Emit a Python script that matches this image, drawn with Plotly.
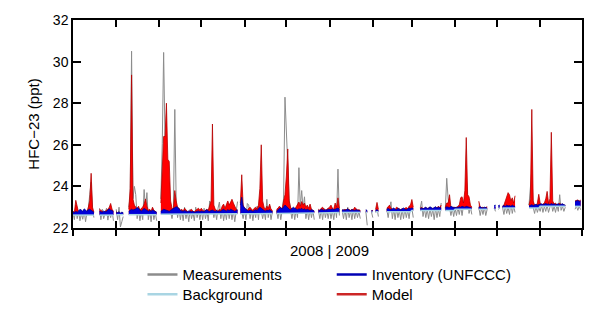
import pandas as pd
import plotly.graph_objects as go

N = None

# Daily axis: 1 Jul 2008 .. 30 Jun 2009
dates = pd.date_range("2008-07-01", "2009-06-30", freq="D")

# Background level (ppt), one value per month, Jul 2008 .. Jun 2009
background_monthly = [22.62, 22.64, 22.66, 22.68, 22.70, 22.72,
                      22.75, 22.78, 22.84, 22.90, 22.96, 23.04]

# Observed HFC-23 (ppt), daily; None = no data
measurements = [
    # Jul
    22.75, 22.40, 23.10, 22.45, 22.80, 22.35, 22.70, 22.42, 22.85, 22.30, 22.75, 22.95, 23.60, 24.20, 22.90, 22.50,
    N, N, N, 22.95, 22.40, 22.90, 22.45, 22.70, 22.95, 22.38, 22.80, 22.50, 22.85, 22.35, N,
    # Aug
    22.90, 22.40, 23.00, 22.05, 22.30, 22.55, N, N, N,
    23.00, 23.50, 30.50, 23.40, 24.00, 23.60, 22.45, 22.90, 22.35, 22.80, 22.40, 23.85, 22.90, 23.70, 22.40, 22.85,
    22.30, 22.95, 22.40, 22.75, 22.35, N,
    # Sep
    N, 23.40, 26.05, 30.44, 26.20, 25.50, 24.00, 23.30, 22.80, 22.45, 22.90, 27.70, 23.20, 22.50, 22.95, 22.40,
    22.85, 22.35, 23.00, 22.45, 22.80, 22.30, 22.90, 22.45, 22.75, 22.35, 23.00, 22.50, 22.85, 22.40,
    # Oct
    22.85, 22.40, 22.95, 22.45, 22.80, 22.35, 23.30, 22.90, 23.00, 22.50, 22.85, 22.40, 22.95, 23.25, 22.45, 22.90,
    22.35, 22.85, 22.40, 23.00, 22.45, 22.90, 22.40, 22.85, 22.30, 22.95, 23.27, N, 22.90, 22.80, 22.45,
    # Nov
    22.90, 22.40, 23.18, 23.10, 22.45, 22.90, 22.35, 22.85, 22.50, 23.05, 22.40, 23.20, 22.90, 22.45, 22.85, 22.40,
    23.38, 22.50, 22.90, 22.40, 22.80, N, N, 22.85, 22.45, 22.95, 22.40, 22.85, 23.40, 28.29,
    # Dec
    26.80, 25.20, 23.40, 22.85, 22.45, 22.95, 22.40, 22.90, 22.50, 24.90, 23.00, 23.80, 22.90, 23.50, 22.45, 22.90,
    22.40, 22.95, 22.50, 22.85, 22.40, N, N, 22.85, 22.45, 22.90, 22.40, 22.95, 22.50, 22.85, 22.45,
    # Jan
    22.90, 22.45, 22.85, 22.40, 23.00, 22.50, 24.83, 22.60, N,
    22.85, 22.45, 22.90, 22.40, 23.00, 22.50, 22.85, 22.40, 22.90, 22.45, 22.85, 22.50, 22.80, 22.45,
    N, N, N, 22.80, 22.13, N, N, 22.78,
    # Feb
    22.50, N, 22.75, 22.95, 22.55, N, N, N, N, N,
    22.90, 22.50, 22.95, 23.26, 22.45, 22.90, 22.40, 22.95, 22.50, 22.85, 22.40, 22.90, 22.45, 22.95, 22.50, 22.85,
    22.45, 23.00,
    # Mar
    22.95, 22.50, N, N, N, N,
    22.95, 23.29, 22.55, 22.95, 22.50, 22.90, 22.45, 22.95, 22.55, 22.90, 22.40, 22.95, 22.50, 22.90, 22.55, 23.20,
    N, N, 22.90, 24.39, 23.40, 22.95, 22.60, 22.95, 22.55,
    # Apr
    22.95, 22.60, 23.00, 22.65, 23.05, 22.60, 23.10, 22.95, 24.40, 23.30, 22.70, 23.00, 22.65, N, N, N, N,
    23.00, 22.60, 22.95, 22.65, 23.00, 22.60, 22.90, N, N, N, N, 22.95, 22.80,
    # May
    N, 22.90, 22.95, N, 23.00, 22.65, 23.05, 22.70, 23.00, 22.65, 23.20, 22.70, 23.05, 22.75,
    N, N, N, N, N, N, N, N, N, 23.10, 24.04, 24.80, 23.00, 22.70, 23.05, 22.75, 23.00,
    # Jun
    22.80, 23.10, 22.75, 23.05, 22.80, 23.10, 22.75, 23.00, 23.20, 22.80, 23.05, 22.75, 23.10, 22.80, 23.60, 22.85,
    23.05, 22.80, 23.00, N, N, N, N, N, N, 22.90, 23.05, 22.85, 23.05, 22.88,
]

# Posterior model (ppt), daily
model = [
    # Jul
    22.80, 22.75, 23.33, 23.05, 22.75, 22.72, 22.70, 22.74, 22.78, 22.72, 22.76, 23.00, 23.30, 24.63, 23.00, 22.75,
    N, N, N, 22.90, 22.85, 22.78, 22.75, 22.80, 22.85, 22.90, 23.00, 23.18, 22.90, 22.80, N,
    # Aug
    22.78, 22.72, 22.75, 22.70, 22.72, 22.70, N, N, N,
    22.90, 23.90, 29.36, 23.40, 23.10, 23.00, 22.90, 23.05, 22.85, 22.95, 23.00, 23.15, 23.40, 23.05, 22.85, 22.90,
    22.80, 23.00, 22.85, 22.80, 22.75, N,
    # Sep
    N, 23.20, 24.50, 26.40, 26.40, 28.00, 25.30, 25.20, 23.30, 22.95, 22.90, 23.80, 23.30, 23.00, 22.95, 22.85,
    22.90, 22.80, 22.95, 22.85, 22.80, 22.78, 22.85, 22.90, 22.80, 22.78, 22.85, 22.90, 22.95, 22.85,
    # Oct
    22.95, 22.85, 22.80, 22.85, 22.90, 22.85, 23.10, 23.30, 27.00, 23.10, 22.90, 22.85, 22.80, 22.90, 22.85, 23.05,
    23.15, 22.95, 23.10, 23.30, 23.10, 23.25, 23.38, 23.20, 23.05, 22.90, 22.85, N, 23.20, 24.56, 23.10,
    # Nov
    22.95, 22.90, 22.85, 22.95, 23.00, 22.90, 22.85, 22.95, 23.00, 22.90, 23.10, 23.90, 26.00, 23.30, 23.00, 22.90,
    23.05, 22.95, 23.15, 22.90, 22.85, N, N, 22.90, 22.95, 23.05, 22.95, 22.90, 23.30, 23.60,
    # Dec
    24.50, 25.80, 23.30, 23.00, 22.90, 22.95, 22.90, 23.00, 23.10, 23.25, 23.05, 23.27, 23.10, 23.20, 23.00, 23.10,
    22.95, 23.15, 22.90, 22.85, 22.80, N, N, 22.90, 22.85, 22.95, 23.00, 22.90, 22.85, 22.90, 22.95,
    # Jan
    23.00, 23.10, 22.95, 22.90, 23.20, 23.00, 23.45, 22.95, N,
    22.88, 22.85, 22.90, 22.86, 22.92, 22.88, 22.85, 22.90, 22.88, 23.00, 22.90, 22.86, 22.88, 22.85,
    N, N, N, 22.85, 22.80, N, N, 22.82,
    # Feb
    22.85, N, 22.90, 23.23, 22.90, N, N, N, N, N,
    22.95, 23.05, 23.10, 22.95, 22.90, 22.92, 22.88, 23.00, 22.95, 22.90, 22.88, 22.92, 22.90, 22.95, 22.98, 22.92,
    23.05, 23.10,
    # Mar
    23.37, 23.00, N, N, N, N,
    22.95, 23.00, 22.92, 22.95, 22.98, 22.92, 22.96, 23.00, 22.94, 22.92, 22.96, 23.00, 22.95, 23.05, 22.98, 23.10,
    N, N, 23.00, 23.20, 23.20, 23.60, 23.00, 22.98, 23.00,
    # Apr
    23.00, 22.98, 23.05, 23.10, 23.46, 23.50, 23.20, 23.80, 26.35, 23.60, 23.50, 23.10, 23.00, N, N, N, N,
    23.29, 23.00, 22.98, 23.00, 22.96, 23.00, 23.02, N, N, N, N, 22.96, 22.98,
    # May
    N, 23.00, 23.02, N, 23.05, 23.10, 23.30, 23.50, 23.70, 23.60, 23.30, 23.45, 23.20, 23.55,
    N, N, N, N, N, N, N, N, N, 23.10, 23.40, 27.70, 23.30, 23.10, 23.05, 23.20, 23.62,
    # Jun
    23.20, 23.10, 23.15, 23.20, 23.40, 23.76, 23.20, 23.40, 26.60, 23.30, 23.15, 23.20, 23.10, 23.15, 23.20, 23.10,
    23.15, 23.10, 23.08, N, N, N, N, N, N, 23.30, 23.32, 23.35, 23.30, 23.34,
]

# Prior model driven by UNFCCC inventory (ppt), daily
inventory = [
    # Jul
    22.78, 22.74, 22.80, 22.76, 22.82, 22.90, 22.86, 22.80, 22.92, 22.84, 22.80, 22.88, 22.90, 22.85, 22.80, 22.76,
    N, N, N, 22.80, 22.78, 22.76, 22.82, 22.78, 22.80, 22.88, 22.92, 22.86, 22.84, 22.78, N,
    # Aug
    22.76, 22.74, 22.78, 22.72, 22.76, 22.74, N, N, N,
    22.80, 22.85, 22.90, 22.86, 22.88, 22.92, 22.98, 22.95, 22.85, 22.82, 22.88, 22.94, 22.90, 22.86, 22.80, 22.84,
    22.80, 22.86, 22.82, 22.78, 22.76, N,
    # Sep
    N, 22.80, 22.85, 22.90, 22.88, 22.85, 22.82, 22.80, 22.85, 22.90, 22.95, 22.98, 23.02, 23.00, 22.92, 22.85,
    22.82, 22.80, 22.84, 22.80, 22.78, 22.82, 22.80, 22.78, 22.80, 22.76, 22.78, 22.80, 22.82, 22.78,
    # Oct
    22.82, 22.80, 22.78, 22.84, 22.88, 22.82, 22.80, 22.84, 22.86, 22.82, 22.80, 22.84, 22.78, 22.82, 22.80, 22.86,
    22.90, 22.84, 22.82, 22.88, 22.84, 22.90, 22.86, 22.82, 22.80, 22.84, 22.88, N, 23.10, 23.48, 23.05,
    # Nov
    22.95, 22.90, 22.84, 22.82, 22.86, 22.84, 22.80, 22.84, 22.88, 22.84, 22.90, 23.00, 22.95, 22.88, 22.84, 22.82,
    22.86, 22.84, 22.88, 22.82, 22.80, N, N, 22.82, 22.88, 22.95, 22.98, 22.92, 23.00, 23.10,
    # Dec
    23.05, 22.95, 22.90, 22.88, 22.92, 23.00, 22.95, 22.90, 22.88, 22.92, 22.90, 22.95, 22.88, 22.92, 22.86, 22.90,
    22.86, 22.84, 22.88, 22.84, 22.82, N, N, 22.86, 22.84, 22.90, 22.88, 22.85, 22.88, 22.86, 22.90,
    # Jan
    22.90, 22.88, 22.92, 22.88, 22.90, 22.94, 22.96, 22.90, N,
    22.86, 22.88, 22.84, 22.88, 22.92, 22.86, 22.84, 22.88, 22.86, 22.84, 22.88, 22.86, 22.84, 22.82,
    N, N, N, 22.88, 22.84, N, N, 22.84,
    # Feb
    22.82, N, 22.86, 22.88, 22.84, N, N, N, N, N,
    22.90, 22.94, 22.90, 22.88, 22.92, 22.96, 22.90, 22.88, 22.94, 22.90, 22.88, 22.92, 22.96, 22.90, 22.88, 22.92,
    22.96, 22.94,
    # Mar
    22.96, 22.94, N, N, N, N,
    22.94, 22.96, 22.92, 22.98, 23.00, 22.94, 22.96, 23.02, 22.96, 22.94, 22.98, 23.02, 22.96, 23.00, 22.98, 22.96,
    N, N, 22.98, 23.02, 23.00, 22.98, 23.04, 23.00, 22.98,
    # Apr
    22.98, 23.00, 22.98, 23.02, 23.00, 23.04, 23.02, 23.00, 23.04, 23.02, 23.00, 22.98, 22.96, N, N, N, N,
    23.00, 23.02, 22.98, 22.96, 23.00, 22.98, 22.96, N, N, N, N, 23.08, 23.10,
    # May
    N, 23.08, 23.10, N, 23.05, 23.08, 23.04, 23.10, 23.06, 23.08, 23.04, 23.10, 23.06, 23.04,
    N, N, N, N, N, N, N, N, N, 23.06, 23.10, 23.12, 23.08, 23.10, 23.14, 23.10, 23.12,
    # Jun
    23.12, 23.16, 23.12, 23.14, 23.18, 23.14, 23.16, 23.12, 23.18, 23.14, 23.16, 23.12, 23.14, 23.16, 23.12, 23.14,
    23.16, 23.12, 23.10, N, N, N, N, N, N, 23.28, 23.30, 23.32, 23.28, 23.30,
]

for name, series in (("measurements", measurements), ("model", model), ("inventory", inventory)):
    if len(series) != len(dates):
        raise ValueError(f"{name}: {len(series)} values for {len(dates)} days")

GREY = "#8c8c8c"
LIGHT_BLUE = "#a9d5e3"
BLUE_FILL, BLUE_EDGE, BLUE_KEY = "#0000d8", "#00008c", "#0000b4"
RED_FILL, RED_EDGE, RED_KEY = "#ff0000", "#b40000", "#cc2626"

month_index = [(d.year - 2008) * 12 + d.month - 7 for d in dates]
background = [background_monthly[m] if model[i] is not None else None
              for i, m in enumerate(month_index)]


def runs(values):
    """Index lists of the contiguous stretches that have data."""
    out, cur = [], []
    for i, v in enumerate(values):
        if v is None:
            if cur:
                out.append(cur)
            cur = []
        else:
            cur.append(i)
    if cur:
        out.append(cur)
    return out


fig = go.Figure()

# measurements underneath everything
fig.add_trace(go.Scatter(x=dates, y=measurements, mode="lines",
                         line=dict(color=GREY, width=1), connectgaps=False,
                         showlegend=False, hoverinfo="skip"))


def add_band(series, fill, edge):
    # area between the background level and a model series, one piece per data stretch
    for idx in runs(series):
        xs = [dates[i] for i in idx]
        fig.add_trace(go.Scatter(x=xs, y=[background[i] for i in idx], mode="lines",
                                 line=dict(width=0), showlegend=False, hoverinfo="skip"))
        fig.add_trace(go.Scatter(x=xs, y=[series[i] for i in idx], mode="lines",
                                 line=dict(color=edge, width=0.8), fill="tonexty",
                                 fillcolor=fill, showlegend=False, hoverinfo="skip"))


add_band(model, RED_FILL, RED_EDGE)
add_band(inventory, BLUE_FILL, BLUE_EDGE)

fig.add_trace(go.Scatter(x=dates, y=background, mode="lines",
                         line=dict(color=LIGHT_BLUE, width=1.5), connectgaps=False,
                         showlegend=False, hoverinfo="skip"))

# legend keys, one small legend box per entry (2 x 2 grid)
legend_keys = [("Measurements", GREY, "legend"),
               ("Background", LIGHT_BLUE, "legend2"),
               ("Inventory (UNFCCC)", BLUE_KEY, "legend3"),
               ("Model", RED_KEY, "legend4")]
for label, color, leg in legend_keys:
    fig.add_trace(go.Scatter(x=[None], y=[None], mode="lines", name=label,
                             line=dict(color=color, width=2.5), legend=leg))

# second bottom axis carries the outward half of the month ticks
fig.add_trace(go.Scatter(x=[dates[0]], y=[None], xaxis="x2", mode="lines",
                         showlegend=False, hoverinfo="skip"))


def legend_box(x, y):
    return dict(x=x, y=y, xanchor="left", yanchor="top", traceorder="normal",
                font=dict(size=15), bgcolor="rgba(0,0,0,0)", borderwidth=0)


x_range = ["2008-07-01", "2009-07-01"]
fig.update_layout(
    width=600, height=323,
    margin=dict(l=73, r=18, t=18, b=93),
    plot_bgcolor="white", paper_bgcolor="white",
    font=dict(family="Liberation Sans, Arial, sans-serif", size=14, color="black"),
    xaxis=dict(type="date", range=x_range, tick0="2008-07-01", dtick="M1",
               ticks="inside", ticklen=7, tickwidth=1.5, tickcolor="black",
               showticklabels=False, showline=True, linecolor="black", linewidth=1.5,
               mirror="ticks", showgrid=False, zeroline=False),
    xaxis2=dict(type="date", range=x_range, tick0="2008-07-01", dtick="M1",
                overlaying="x", side="bottom", anchor="y",
                ticks="outside", ticklen=7, tickwidth=1.5, tickcolor="black",
                showticklabels=False, showline=False, showgrid=False, zeroline=False),
    yaxis=dict(range=[22, 32], tick0=22, dtick=2, ticks="inside", ticklen=8,
               tickwidth=1.5, tickcolor="black", showline=True, linecolor="black",
               linewidth=1.5, mirror="ticks", showgrid=False, zeroline=False,
               tickfont=dict(size=14),
               title=dict(text="HFC\u221223 (ppt)", font=dict(size=15), standoff=10)),
    legend=legend_box(0.1365, -0.146),
    legend2=legend_box(0.1365, -0.240),
    legend3=legend_box(0.5083, -0.146),
    legend4=legend_box(0.5083, -0.240),
    annotations=[dict(x="2009-01-01", xref="x", y=-0.109, yref="paper",
                      text="2008 | 2009", showarrow=False, xanchor="center",
                      yanchor="middle", font=dict(size=15))],
)

fig.write_html("out.html")
